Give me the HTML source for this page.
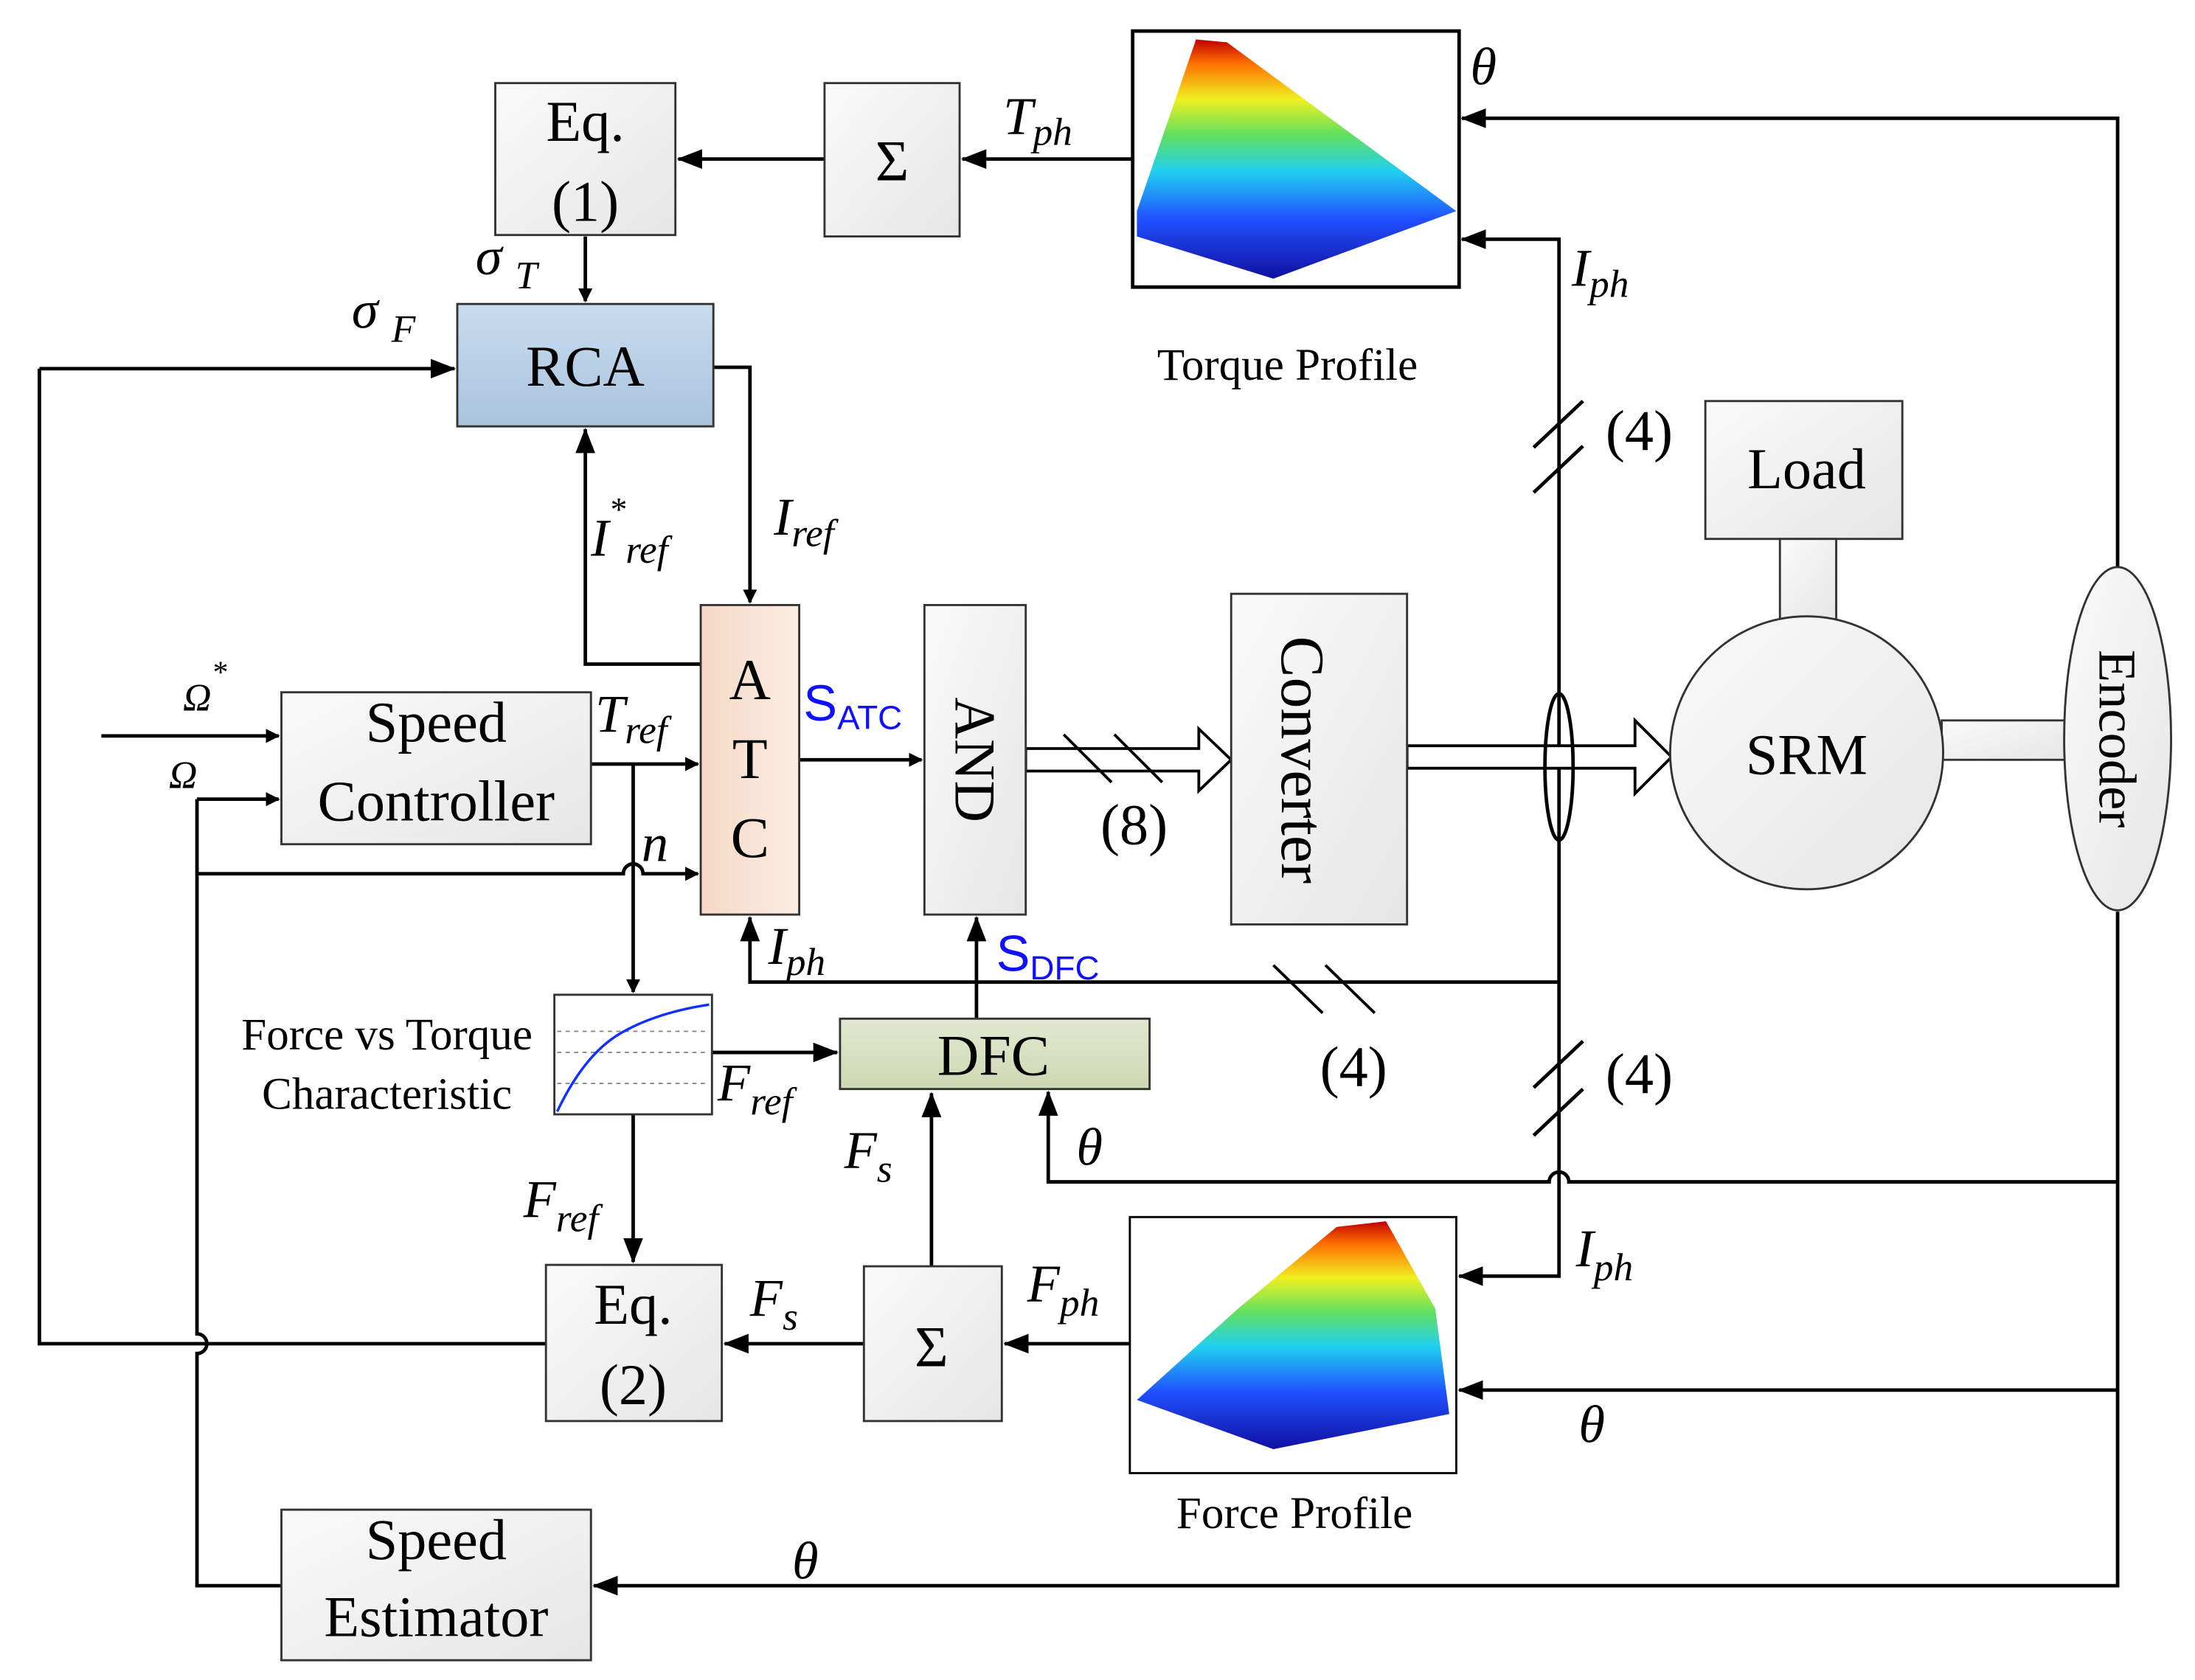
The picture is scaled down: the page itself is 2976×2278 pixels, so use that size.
<!DOCTYPE html>
<html><head><meta charset="utf-8"><style>html,body{margin:0;padding:0;background:#fff}svg{display:block}</style></head>
<body>
<svg xmlns="http://www.w3.org/2000/svg" width="2976" height="2278" viewBox="0 0 1560 1194" font-family="Liberation Serif, serif">
<defs>
<linearGradient id="gb" x1="0" y1="0" x2="1" y2="1"><stop offset="0" stop-color="#fafafa"/><stop offset="1" stop-color="#e6e6e6"/></linearGradient>
<linearGradient id="rca" x1="0" y1="0" x2="0" y2="1"><stop offset="0" stop-color="#c9dcef"/><stop offset="1" stop-color="#a9c4de"/></linearGradient>
<linearGradient id="atc" x1="0" y1="0" x2="1" y2="0"><stop offset="0" stop-color="#f6d8c4"/><stop offset="1" stop-color="#fbeee4"/></linearGradient>
<linearGradient id="dfc" x1="0" y1="0" x2="0" y2="1"><stop offset="0" stop-color="#e2e8d0"/><stop offset="1" stop-color="#cdd8b2"/></linearGradient>
<linearGradient id="surf" x1="0" y1="1" x2="0" y2="0"><stop offset="0" stop-color="#1010a0"/><stop offset="0.25" stop-color="#2050ff"/><stop offset="0.45" stop-color="#20d0f0"/><stop offset="0.6" stop-color="#60e060"/><stop offset="0.75" stop-color="#f0f020"/><stop offset="0.9" stop-color="#ff7000"/><stop offset="1" stop-color="#c00000"/></linearGradient>
<marker id="a" markerWidth="10" markerHeight="10" refX="9" refY="5" orient="auto" markerUnits="userSpaceOnUse" viewBox="0 0 10 10"><path d="M0,0 L10,5 L0,10 z" fill="#000"/></marker>
<marker id="A" markerWidth="18" markerHeight="14" refX="17" refY="7" orient="auto" markerUnits="userSpaceOnUse" viewBox="0 0 18 14"><path d="M0,0 L18,7 L0,14 z" fill="#000"/></marker>
</defs>
<g fill="none" stroke="#000" stroke-width="2.5">
<path d="M805,113 H684" marker-end="url(#A)"/>
<path d="M586,113 H482" marker-end="url(#A)"/>
<path d="M416,168 V214" marker-end="url(#a)"/>
<path d="M1505,403 V84 H1039" marker-end="url(#A)"/>
<path d="M1108,590 V170 H1039" marker-end="url(#A)"/>
<path d="M28,262 H323" marker-end="url(#A)"/>
<path d="M28,262 V955 H388"/>
<path d="M507,261 H533 V428" marker-end="url(#a)"/>
<path d="M498,472 H416 V305" marker-end="url(#A)"/>
<path d="M72,523 H198" marker-end="url(#a)"/>
<path d="M140,568 H198" marker-end="url(#a)"/>
<path d="M420,543 H496" marker-end="url(#a)"/>
<path d="M140,621 H443 a7,7 0 0 1 14,0 H496" marker-end="url(#a)"/>
<path d="M450,543 V705" marker-end="url(#a)"/>
<path d="M568,540 H655" marker-end="url(#a)"/>
<path d="M506,748 H595" marker-end="url(#A)"/>
<path d="M694,724 V652" marker-end="url(#A)"/>
<path d="M1108,698 H533 V652" marker-end="url(#A)"/>
<path d="M1505,840 H1115 a7,7 0 0 0 -14,0 H745 V776" marker-end="url(#A)"/>
<path d="M1108,590 V907 H1037" marker-end="url(#A)"/>
<path d="M450,792 V897" marker-end="url(#A)"/>
<path d="M614,955 H515" marker-end="url(#A)"/>
<path d="M662,900 V777" marker-end="url(#A)"/>
<path d="M803,955 H714" marker-end="url(#A)"/>
<path d="M1505,988 H1037" marker-end="url(#A)"/>
<path d="M1505,648 V1127 H422" marker-end="url(#A)"/>
<path d="M200,1127 H140 V962 a7,7 0 0 0 0,-14 V568"/>
<path d="M1090,318 L1125,285 M1090,350 L1125,317"/>
<path d="M905,686 L940,720 M942,686 L977,720" stroke-width="2"/>
<path d="M1090,773 L1125,740 M1090,807 L1125,774"/>
</g>
<path d="M729,532 H852 V518 L875,540 L852,562 V548 H729 z" fill="#fff" stroke="#000" stroke-width="2"/>
<path d="M756,522 L790,556 M792,522 L826,556" stroke="#000" stroke-width="2"/>
<path d="M1000,530 H1162 V512 L1188,538 L1162,564 V546 H1000 z" fill="#fff" stroke="#000" stroke-width="2"/>
<ellipse cx="1108" cy="545" rx="10" ry="52" fill="none" stroke="#000" stroke-width="2.5"/>
<g stroke="#333" stroke-width="1.5">
<rect x="352" y="59" width="128" height="108" fill="url(#gb)"/>
<rect x="586" y="59" width="96" height="109" fill="url(#gb)"/>
<rect x="325" y="216" width="182" height="87" fill="url(#rca)"/>
<rect x="200" y="492" width="220" height="108" fill="url(#gb)"/>
<rect x="498" y="430" width="70" height="220" fill="url(#atc)"/>
<rect x="657" y="430" width="72" height="220" fill="url(#gb)"/>
<rect x="875" y="422" width="125" height="235" fill="url(#gb)"/>
<rect x="1212" y="285" width="140" height="98" fill="url(#gb)"/>
<rect x="1265" y="383" width="40" height="57" fill="url(#gb)"/>
<rect x="1380" y="512" width="88" height="28" fill="url(#gb)"/>
<circle cx="1284" cy="535" r="97" fill="url(#gb)"/>
<ellipse cx="1505" cy="525" rx="38" ry="122" fill="url(#gb)"/>
<rect x="597" y="724" width="220" height="50" fill="url(#dfc)"/>
<rect x="388" y="899" width="125" height="111" fill="url(#gb)"/>
<rect x="614" y="900" width="98" height="110" fill="url(#gb)"/>
<rect x="200" y="1073" width="220" height="107" fill="url(#gb)"/>
<rect x="394" y="707" width="112" height="85" fill="#fff"/>
</g>
<rect x="805" y="22" width="232" height="182" fill="#fff" stroke="#000" stroke-width="2.5"/>
<rect x="803" y="865" width="232" height="182" fill="#fff" stroke="#000" stroke-width="1.5"/>
<polygon points="808,150 850,28 872,30 1035,150 905,198 808,168" fill="url(#surf)"/>
<polygon points="808,995 880,930 950,872 985,868 1020,930 1030,1005 905,1030" fill="url(#surf)"/>
<g stroke="#888" stroke-width="1" stroke-dasharray="3,3"><path d="M396,748 H504 M396,770 H504 M396,733 H504"/></g>
<path d="M396,790 Q415,750 440,735 T504,714" fill="none" stroke="#1030ff" stroke-width="1.8"/>
<g font-size="41" text-anchor="middle" fill="#000">
<text x="416" y="100">Eq.</text><text x="416" y="157">(1)</text>
<text x="634" y="128">Σ</text>
<text x="416" y="274">RCA</text>
<text x="310" y="527">Speed</text><text x="310" y="583">Controller</text>
<text x="533" y="497">A</text><text x="533" y="553">T</text><text x="533" y="609">C</text>
<text x="1284" y="347">Load</text>
<text x="1284" y="550">SRM</text>
<text x="706" y="764">DFC</text>
<text x="450" y="941">Eq.</text><text x="450" y="998">(2)</text>
<text x="662" y="971">Σ</text>
<text x="310" y="1108">Speed</text><text x="310" y="1163">Estimator</text>
<text x="806" y="600">(8)</text>
<text x="962" y="772">(4)</text>
<text x="1165" y="320">(4)</text>
<text x="1165" y="777">(4)</text>
<text transform="translate(925,540) rotate(90)" y="14" font-size="44">Converter</text>
<text transform="translate(693,540) rotate(90)" y="14">AND</text>
<text transform="translate(1505,525) rotate(90)" y="13" font-size="38">Encoder</text>
</g>
<g font-size="32" text-anchor="middle">
<text x="915" y="270">Torque Profile</text>
<text x="920" y="1086">Force Profile</text>
<text x="275" y="746">Force vs Torque</text>
<text x="275" y="788">Characteristic</text>
</g>
<g font-size="38" font-style="italic">
<text x="713" y="95">T<tspan font-size="28" dy="8">ph</tspan></text>
<text x="1045" y="60">θ</text>
<text x="1117" y="203">I<tspan font-size="28" dy="8">ph</tspan></text>
<text x="338" y="195">σ <tspan font-size="28" dy="10">T</tspan></text>
<text x="250" y="233">σ <tspan font-size="28" dy="10">F</tspan></text>
<text x="550" y="380">I<tspan font-size="28" dy="8">ref</tspan></text>
<text x="420" y="395">I<tspan font-size="24" dy="-25">*</tspan><tspan font-size="28" dy="30">ref</tspan></text>
<text x="130" y="505" font-size="28">Ω<tspan font-size="22" dy="-20">*</tspan></text>
<text x="120" y="560" font-size="28">Ω</text>
<text x="423" y="520">T<tspan font-size="28" dy="8">ref</tspan></text>
<text x="456" y="612">n</text>
<text x="546" y="685">I<tspan font-size="28" dy="8">ph</tspan></text>
<text x="510" y="782">F<tspan font-size="28" dy="10">ref</tspan></text>
<text x="765" y="828">θ</text>
<text x="372" y="865">F<tspan font-size="28" dy="10">ref</tspan></text>
<text x="600" y="830">F<tspan font-size="28" dy="10">s</tspan></text>
<text x="533" y="935">F<tspan font-size="28" dy="10">s</tspan></text>
<text x="730" y="925">F<tspan font-size="28" dy="10">ph</tspan></text>
<text x="1120" y="900">I<tspan font-size="28" dy="10">ph</tspan></text>
<text x="1122" y="1025">θ</text>
<text x="563" y="1122">θ</text>
</g>
<g font-family="Liberation Sans, sans-serif" fill="#1010ff">
<text x="571" y="512" font-size="36">S<tspan font-size="24" dy="6">ATC</tspan></text>
<text x="708" y="690" font-size="36">S<tspan font-size="24" dy="6">DFC</tspan></text>
</g>
</svg>
</body></html>
